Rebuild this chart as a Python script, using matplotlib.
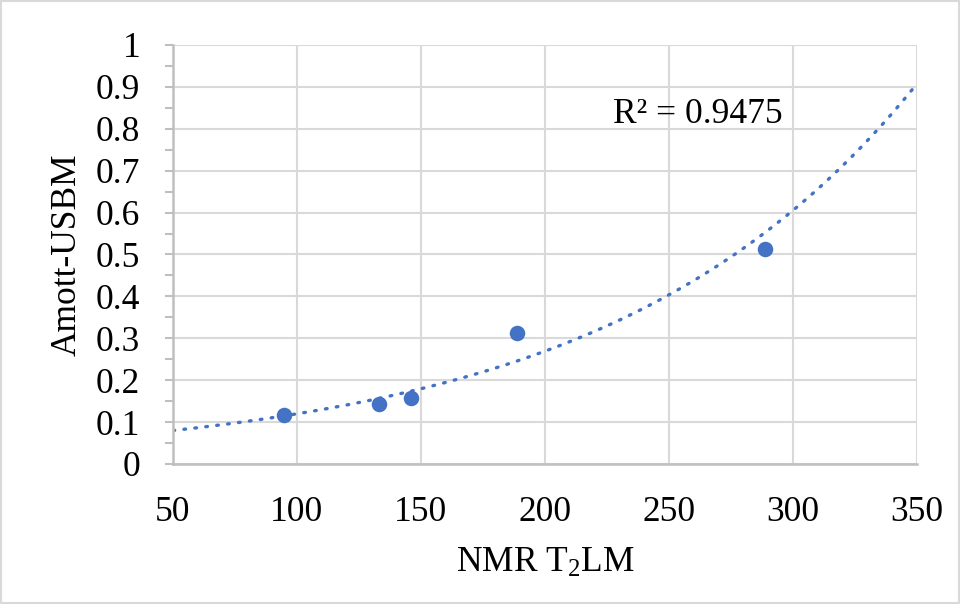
import numpy as np
import matplotlib
matplotlib.use('Agg')
import matplotlib.pyplot as plt
from matplotlib.ticker import MultipleLocator
from matplotlib.patches import Rectangle

# data
t2lm = [94.8, 133.1, 146.0, 188.7, 288.7]
amott = [0.117, 0.143, 0.158, 0.313, 0.513]
y_ticks = [0, 0.1, 0.2, 0.3, 0.4, 0.5, 0.6, 0.7, 0.8, 0.9, 1]
y_ticklabels = ['0', '0.1', '0.2', '0.3', '0.4', '0.5', '0.6', '0.7', '0.8', '0.9', '1']
r2_label = 'R² = 0.9475'

fs = 25.5
plt.rcParams.update({
    "font.family": ["Liberation Serif", "DejaVu Serif"],
    "mathtext.fontset": "custom",
    "mathtext.rm": "Liberation Serif",
    "mathtext.it": "Liberation Serif:italic",
    "font.size": fs,
})

blue = '#4472C4'
grid_c = '#d9d9d9'
spine_c = '#bfbfbf'

fig = plt.figure(figsize=(9.6, 6.04), dpi=100)
ax = fig.add_axes([0.1802, 0.2318, 0.775, 0.6937])

# exponential trendline (least squares on ln y, like Excel)
b, ln_a = np.polyfit(t2lm, np.log(amott), 1)
xs = np.linspace(50, 350, 300)
ax.plot(xs, np.exp(ln_a) * np.exp(b * xs), color=blue, lw=2.4,
        linestyle=(0, (0.5, 2.8)), dash_capstyle='round', zorder=2)

ax.scatter(t2lm, amott, s=125, color=blue, zorder=3, linewidths=0)

ax.set_xlim(50, 350)
ax.set_ylim(0, 1)
ax.xaxis.set_major_locator(MultipleLocator(50))
ax.set_yticks(y_ticks)
ax.set_yticklabels(y_ticklabels)
ax.yaxis.set_minor_locator(MultipleLocator(0.05))

ax.grid(True, which='major', color=grid_c, lw=1.5)
ax.set_axisbelow(True)
for s in ['top', 'right']:
    ax.spines[s].set_visible(False)
for s in ['left', 'bottom']:
    ax.spines[s].set_color(spine_c)
    ax.spines[s].set_linewidth(1.8)

ax.tick_params(axis='y', which='major', length=5.5, width=1.5, color=spine_c, pad=18, labelsize=fs)
ax.tick_params(axis='y', which='minor', length=5.5, width=1.5, color=spine_c)
ax.tick_params(axis='x', which='major', length=0, pad=23, labelsize=fs)

ax.set_xlabel('NMR T$_2$LM', fontsize=fs, labelpad=13)
ax.set_ylabel('Amott-USBM', fontsize=fs, labelpad=9)

ax.text(227.4, 0.833, r2_label, fontsize=fs, va='center', ha='left')

fig.patches.append(Rectangle((0.001, 0.001), 0.998, 0.998, transform=fig.transFigure,
                             fill=False, edgecolor=grid_c, lw=1.5))

fig.savefig('out.png', dpi=100)
